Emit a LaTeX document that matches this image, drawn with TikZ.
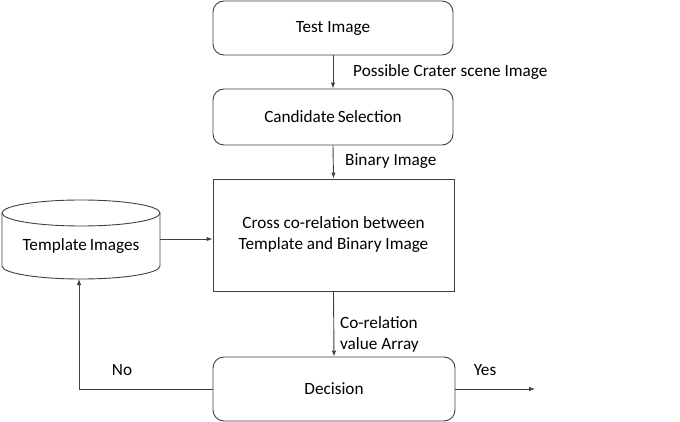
\documentclass[tikz,border=0pt]{standalone}
\usepackage{fontspec}
\setmainfont{Carlito}
\usetikzlibrary{arrows.meta}
\begin{document}
\begin{tikzpicture}[x=1pt,y=-1pt,
  every node/.style={font=\fontsize{17.2}{21}\selectfont, text=black, inner sep=0pt},
  line/.style={draw=black!75, line width=0.9pt},
  rbox/.style={line, rounded corners=11pt, minimum width=240pt, minimum height=54pt},
  sbox/.style={line, minimum width=241pt, minimum height=112pt, align=center},
  arr/.style={line, -{Latex[length=6pt,width=4.5pt]}},
  lbl/.style={anchor=west}]
\useasboundingbox (0,0) rectangle (680,422);
\node[rbox] (test) at (333,28) {Test Image};
\node[rbox, minimum height=56pt] (cand) at (333,117) {Candidate\,Selection};
\node[sbox] (cross) at (333.5,235) {Cross co-relation between\\Template and Binary Image};
\node[rbox, minimum width=242pt, minimum height=64pt] (dec) at (334,389) {Decision};
% cylinder
\draw[line] (81,213) ellipse [x radius=79pt, y radius=13pt];
\draw[line] (2,213) -- (2,266) arc [start angle=180, end angle=360, x radius=79pt, y radius=13pt] -- (160,213);
\node[minimum width=158pt, minimum height=79pt] (tmpl) at (81,240) {};
\node at (81,246) (tmpltxt) {Template\,Images};
\coordinate (yesend) at (535,389);
\coordinate (nocorner) at (79,389);
\draw[arr] (test.south) -- (cand.north);
\draw[arr] (cand.south) -- (cross.north);
\draw[arr] (cross.south) -- (dec.north);
\draw[arr] (tmpl.east |- 0,239) -- (cross.west |- 0,239);
\draw[arr] (dec.west) -- (nocorner) -- (79,279);
\draw[arr] (dec.east) -- (yesend);
\node[lbl] (l1) at (353,72) {Possible Crater scene Image};
\node[lbl] (l2) at (345,161) {Binary Image};
\node[lbl, align=left] (l3) at (340,334) {Co-relation\\value Array};
\node (no) at (122,370) {No};
\node (yes) at (485,370) {Yes};
\end{tikzpicture}
\end{document}
